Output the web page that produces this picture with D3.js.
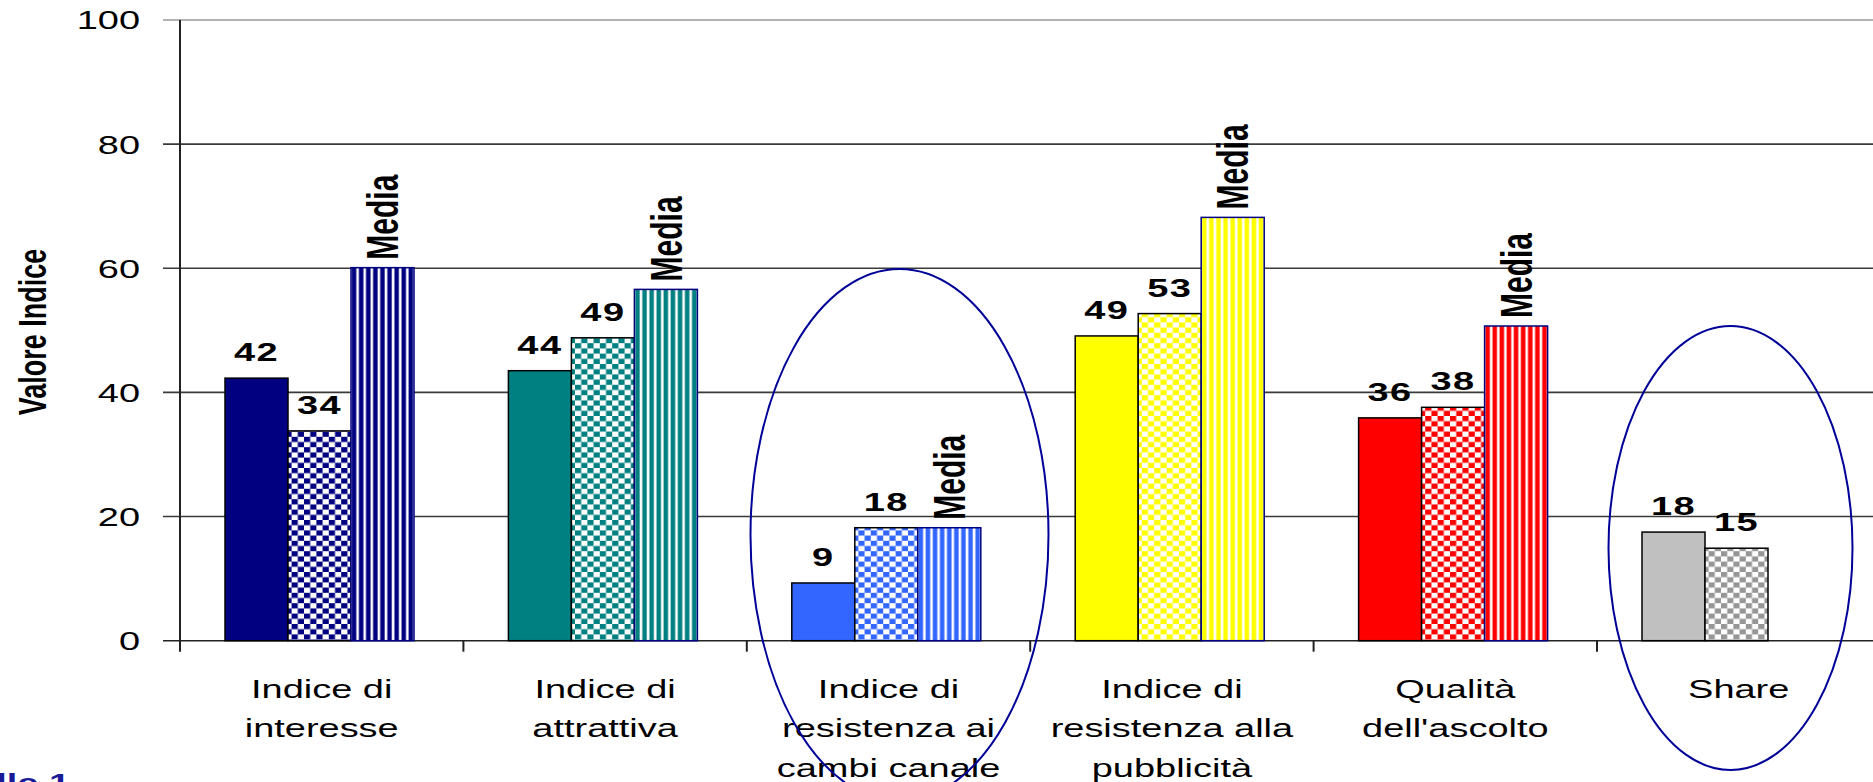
<!DOCTYPE html>
<html>
<head>
<meta charset="utf-8">
<script src="https://cdn.jsdelivr.net/npm/d3@7"></script>
<style>
  html, body { margin: 0; padding: 0; background: #fff; overflow: hidden; }
  svg { display: block; font-family: "Liberation Sans", Arial, sans-serif; }
</style>
</head>
<body>
<div id="chart"></div>
<script>
// categories (multi-line labels)
const categories = [
    ['Indice di', 'interesse'],
    ['Indice di', 'attrattiva'],
    ['Indice di', 'resistenza ai', 'cambi canale'],
    ['Indice di', 'resistenza alla', 'pubblicità'],
    ['Qualità', "dell'ascolto"],
    ['Share']
];
// series values
const solidValues = [42.3, 43.5, 9.3, 49.1, 35.9, 17.5];
const checkValues = [33.8, 48.8, 18.2, 52.7, 37.6, 14.9];
const mediaValues = [60.1, 56.6, 18.2, 68.2, 50.7, null];
const yTicks = [0, 20, 40, 60, 80, 100];

const baseColors = ['#000080', '#008080', '#3366ff', '#ffff00', '#ff0000', '#c0c0c0'];
const checkColors = ['#000080', '#008080', '#3366ff', '#ffff00', '#ff0000', '#969696'];

// hand-drawn ellipses round two of the groups (annotation, not data)
const annotations = [
    { cat: 2, dx: 152.7, rx: 149, ry: 266, cy: 535 },
    { cat: 5, dx: 133.5, rx: 122, ry: 222, cy: 548 }
];

const W = 1873, H = 782;
const SX = 1.46; // the original picture is stretched horizontally
const plotLeft = 180, plotTop = 20, plotBottom = 640.7;
const step = 283.4;

const svg = d3.select('#chart').append('svg')
    .attr('width', W).attr('height', H);

const defs = svg.append('defs');
baseColors.forEach((c, i) => {
    const chk = defs.append('pattern')
        .attr('id', 'chk' + i)
        .attr('patternUnits', 'userSpaceOnUse')
        .attr('width', 12.4).attr('height', 10.4);
    chk.append('rect').attr('width', 12.4).attr('height', 10.4).attr('fill', '#fff');
    chk.append('rect').attr('width', 6.2).attr('height', 5.2).attr('fill', checkColors[i]);
    chk.append('rect').attr('x', 6.2).attr('y', 5.2).attr('width', 6.2).attr('height', 5.2).attr('fill', checkColors[i]);

    const str = defs.append('pattern')
        .attr('id', 'str' + i)
        .attr('patternUnits', 'userSpaceOnUse')
        .attr('width', 7.1).attr('height', 10);
    str.append('rect').attr('width', 7.1).attr('height', 10).attr('fill', '#fff');
    str.append('rect').attr('x', 1.4).attr('width', 4.5).attr('height', 10).attr('fill', c);
});

const x0 = d3.scaleBand()
    .domain(d3.range(categories.length))
    .range([plotLeft, plotLeft + step * categories.length])
    .padding(0);

const x1 = d3.scaleBand()
    .domain(['solid', 'check', 'media'])
    .range([45, 45 + 189])
    .padding(0);

const y = d3.scaleLinear().domain([0, 100]).range([plotBottom, plotTop]);

// gridlines + y ticks
svg.append('g').selectAll('line')
    .data(yTicks)
    .join('line')
    .attr('x1', 163).attr('x2', W)
    .attr('y1', d => y(d)).attr('y2', d => y(d))
    .attr('stroke', d => d === 100 ? '#999' : (d === 0 ? '#222' : '#3a3a3a'))
    .attr('stroke-width', 1.6);

svg.append('g').selectAll('text')
    .data(yTicks)
    .join('text')
    .attr('transform', d => `translate(140,${y(d)}) scale(${SX},1)`)
    .attr('text-anchor', 'end')
    .attr('dy', '0.36em')
    .attr('font-size', 26)
    .attr('fill', '#000')
    .text(d => d);

// y axis line
svg.append('line')
    .attr('x1', plotLeft).attr('x2', plotLeft)
    .attr('y1', plotTop).attr('y2', plotBottom + 11)
    .attr('stroke', '#222').attr('stroke-width', 2);

// category ticks
svg.append('g').selectAll('line')
    .data(d3.range(1, categories.length))
    .join('line')
    .attr('x1', d => x0(d)).attr('x2', d => x0(d))
    .attr('y1', plotBottom).attr('y2', plotBottom + 11)
    .attr('stroke', '#222').attr('stroke-width', 2);

svg.append('text')
    .attr('transform', `translate(32,332) scale(${SX},1) rotate(-90)`)
    .attr('text-anchor', 'middle')
    .attr('dy', '0.36em')
    .attr('font-size', 27)
    .attr('font-weight', 'bold')
    .text('Valore Indice');

// bars
const groups = svg.append('g').selectAll('g')
    .data(categories.map((c, i) => i))
    .join('g')
    .attr('transform', i => `translate(${x0(i)},0)`);

const barData = i => [
    { key: 'solid', v: solidValues[i], fill: baseColors[i], stroke: '#000' },
    { key: 'check', v: checkValues[i], fill: `url(#chk${i})`, stroke: '#000' },
    { key: 'media', v: mediaValues[i], fill: `url(#str${i})`, stroke: '#000080' }
].filter(d => d.v != null);

groups.selectAll('rect')
    .data(i => barData(i))
    .join('rect')
    .attr('x', d => x1(d.key))
    .attr('y', d => y(d.v))
    .attr('width', x1.bandwidth())
    .attr('height', d => y(0) - y(d.v))
    .attr('fill', d => d.fill)
    .attr('stroke', d => d.stroke)
    .attr('stroke-width', 1.5);

// value labels
groups.selectAll('text.val')
    .data(i => barData(i).filter(d => d.key !== 'media'))
    .join('text')
    .attr('class', 'val')
    .attr('transform', d => `translate(${x1(d.key) + x1.bandwidth() / 2},${y(d.v) - 17}) scale(${SX},1)`)
    .attr('text-anchor', 'middle')
    .attr('font-size', 26)
    .attr('font-weight', 'bold')
    .attr('letter-spacing', 1)
    .text(d => Math.round(d.v));

groups.selectAll('text.media')
    .data(i => barData(i).filter(d => d.key === 'media'))
    .join('text')
    .attr('class', 'media')
    .attr('transform', d => `translate(${x1(d.key) + x1.bandwidth() / 2},${y(d.v) - 8}) scale(${SX},1) rotate(-90)`)
    .attr('dy', '0.36em')
    .attr('font-size', 30)
    .attr('font-weight', 'bold')
    .text('Media');

// category labels
const catText = groups.append('text')
    .attr('transform', `translate(${step / 2},698) scale(${SX},1)`)
    .attr('text-anchor', 'middle')
    .attr('font-size', 26)
    .attr('fill', '#000');

catText.selectAll('tspan')
    .data(i => categories[i])
    .join('tspan')
    .attr('x', 0)
    .attr('dy', (d, j) => j === 0 ? 0 : 39.5)
    .text(d => d);

// highlight ellipses
svg.append('g').selectAll('ellipse')
    .data(annotations)
    .join('ellipse')
    .attr('cx', d => x0(d.cat) + d.dx)
    .attr('cy', d => d.cy)
    .attr('rx', d => d.rx)
    .attr('ry', d => d.ry)
    .attr('fill', 'none')
    .attr('stroke', '#000099')
    .attr('stroke-width', 2);

// cut-off caption in the lower left corner
svg.append('text')
    .attr('transform', `translate(70,792) scale(${SX},1)`)
    .attr('text-anchor', 'end')
    .attr('font-size', 26)
    .attr('font-weight', 'bold')
    .attr('fill', '#1a1a99')
    .text('Tabelle 1');
</script>
</body>
</html>
